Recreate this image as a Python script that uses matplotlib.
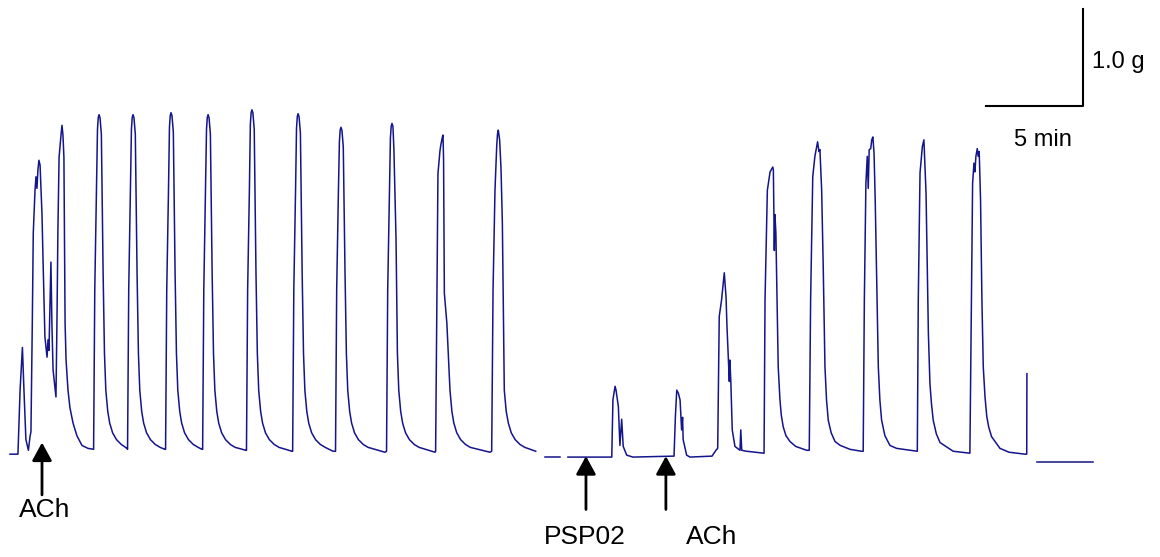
import numpy as np
import matplotlib
matplotlib.use("Agg")
import matplotlib.pyplot as plt

plt.rcParams['font.family'] = ['Liberation Sans', 'DejaVu Sans']

# tension trace: time in min, tension in g
# first run - ACh added, then the regular contractions (one line per contraction)
run1_t = [0.00, 0.41, 0.52, 0.64, 0.72, 0.82, 0.95, 1.03, 1.08, 1.15, 1.20, 1.29, 1.34, 1.39, 1.44, 1.49,
          1.55, 1.65, 1.70, 1.80, 1.91, 1.96, 2.01, 2.11, 2.16, 2.22, 2.37, 2.42, 2.47, 2.53, 2.63, 2.68,
          2.73, 2.78, 2.84, 2.89, 2.99, 3.09, 3.25, 3.45, 3.71, 4.02, 4.28,
          4.31, 4.37, 4.46, 4.51, 4.55, 4.59, 4.64, 4.71, 4.80, 4.87, 4.94, 5.04, 5.14, 5.29, 5.49, 5.74, 6.03,
          6.06, 6.12, 6.21, 6.26, 6.30, 6.34, 6.39, 6.46, 6.55, 6.62, 6.69, 6.79, 6.89, 7.04, 7.24, 7.49, 7.74, 7.99,
          8.02, 8.08, 8.17, 8.22, 8.26, 8.30, 8.35, 8.42, 8.51, 8.58, 8.65, 8.75, 8.85, 9.00, 9.20, 9.45, 9.70, 9.90,
          9.93, 9.99, 10.08, 10.13, 10.17, 10.21, 10.26, 10.33, 10.42, 10.49, 10.56, 10.66, 10.76, 10.91, 11.11,
          11.36, 11.61, 12.16,
          12.19, 12.25, 12.34, 12.39, 12.43, 12.47, 12.52, 12.59, 12.68, 12.75, 12.82, 12.92, 13.02, 13.17, 13.37,
          13.62, 13.87, 14.54,
          14.57, 14.63, 14.72, 14.77, 14.81, 14.85, 14.90, 14.97, 15.06, 15.13, 15.20, 15.30, 15.40, 15.55, 15.75,
          16.00, 16.25, 16.65,
          16.78, 16.84, 16.93, 16.98, 17.02, 17.06, 17.11, 17.18, 17.27, 17.34, 17.41, 17.51, 17.61, 17.76, 17.96,
          18.21, 18.46, 19.33,
          19.41, 19.47, 19.56, 19.61, 19.65, 19.69, 19.74, 19.79, 19.86, 19.90, 19.97, 20.04, 20.14, 20.24, 20.39,
          20.59, 20.84, 21.09, 21.91,
          21.94, 22.01, 22.06, 22.16, 22.21, 22.28, 22.32, 22.35, 22.39, 22.52, 22.68, 22.78, 22.88, 23.03, 23.23,
          23.48, 23.73, 24.74,
          24.83, 24.90, 25.00, 25.09, 25.13, 25.17, 25.24, 25.31, 25.38, 25.48, 25.58, 25.69, 25.84, 26.04, 26.29,
          26.54, 27.10]
run1_g = [0.06, 0.06, 0.72, 1.16, 0.72, 0.21, 0.10, 0.24, 0.29, 1.41, 2.34, 2.78, 2.92, 2.80, 2.99, 3.09,
          3.04, 2.53, 2.09, 1.27, 1.06, 1.24, 1.13, 2.04, 1.41, 0.93, 0.65, 1.41, 2.37, 3.12, 3.35, 3.45,
          3.35, 3.12, 1.41, 1.03, 0.72, 0.54, 0.38, 0.25, 0.15, 0.12, 0.11,
          0.11, 1.75, 2.78, 3.41, 3.53, 3.56, 3.53, 3.36, 1.93, 1.10, 0.72, 0.50, 0.38, 0.28, 0.21, 0.16, 0.12,
          0.11, 1.75, 2.78, 3.41, 3.53, 3.56, 3.53, 3.36, 1.93, 1.10, 0.72, 0.50, 0.38, 0.28, 0.21, 0.16, 0.13, 0.11,
          0.11, 1.75, 2.78, 3.43, 3.55, 3.58, 3.55, 3.38, 1.93, 1.10, 0.72, 0.50, 0.38, 0.28, 0.21, 0.16, 0.13, 0.11,
          0.11, 1.75, 2.78, 3.41, 3.53, 3.56, 3.53, 3.36, 1.93, 1.10, 0.72, 0.50, 0.38, 0.28, 0.21,
          0.16, 0.13, 0.10,
          0.10, 1.75, 2.78, 3.46, 3.58, 3.61, 3.58, 3.41, 1.93, 1.10, 0.72, 0.50, 0.38, 0.28, 0.21,
          0.16, 0.13, 0.09,
          0.09, 1.75, 2.78, 3.42, 3.54, 3.57, 3.54, 3.37, 1.93, 1.10, 0.72, 0.50, 0.38, 0.28, 0.21,
          0.16, 0.13, 0.09,
          0.09, 1.75, 2.78, 3.28, 3.40, 3.43, 3.40, 3.23, 1.93, 1.10, 0.72, 0.50, 0.38, 0.28, 0.21,
          0.16, 0.13, 0.08,
          0.09, 1.75, 2.78, 3.32, 3.44, 3.47, 3.44, 3.20, 2.60, 2.27, 1.10, 0.72, 0.50, 0.38, 0.28,
          0.21, 0.16, 0.13, 0.08,
          0.09, 1.75, 2.95, 3.18, 3.25, 3.32, 3.35, 3.10, 1.72, 1.41, 0.72, 0.50, 0.38, 0.28, 0.21,
          0.16, 0.13, 0.08,
          0.09, 1.75, 2.78, 3.24, 3.36, 3.40, 3.30, 3.01, 2.45, 0.72, 0.50, 0.38, 0.28, 0.21, 0.16,
          0.13, 0.09]

# short piece of baseline during the wash
wash_t = [27.58, 28.35]
wash_g = [0.03, 0.03]

# PSP02 added, then ACh again
run2_t = [28.76, 31.02, 31.08, 31.19, 31.24, 31.36, 31.44, 31.53, 31.61, 31.79, 32.11,
          34.23, 34.30, 34.37, 34.45, 34.54, 34.62, 34.67, 34.70, 34.88, 35.05,
          36.19, 36.39, 36.48, 36.56, 36.68, 36.82, 36.91, 36.96, 37.03, 37.08, 37.11, 37.16, 37.23,
          37.37, 37.63, 37.67, 37.72, 37.97, 38.83,
          38.87, 38.92, 39.04, 39.18, 39.32, 39.35, 39.40, 39.43, 39.48, 39.54, 39.60, 39.69, 39.76, 39.86,
          40.00, 40.21, 40.50, 41.07,
          41.20, 41.27, 41.38, 41.49, 41.58, 41.63, 41.70, 41.75, 41.84, 41.92, 42.01, 42.09, 42.18, 42.33,
          42.53, 42.80, 43.30, 43.90,
          43.98, 44.04, 44.12, 44.19, 44.24, 44.29, 44.37, 44.42, 44.48, 44.54, 44.60, 44.68, 44.76, 44.84,
          44.93, 45.10, 45.36, 45.70, 46.74,
          46.77, 46.82, 46.91, 47.03, 47.11, 47.22, 47.34, 47.42, 47.50, 47.59, 47.75, 47.94, 48.62, 49.48,
          49.54, 49.57, 49.62, 49.69, 49.74, 49.79, 49.86, 49.91, 49.96, 50.03, 50.10, 50.17, 50.26, 50.35,
          50.45, 50.60, 51.03, 51.50, 52.32, 52.41, 52.42]
run2_g = [0.03, 0.03, 0.62, 0.76, 0.72, 0.55, 0.15, 0.42, 0.14, 0.05, 0.03,
          0.04, 0.45, 0.72, 0.69, 0.62, 0.31, 0.44, 0.21, 0.05, 0.03,
          0.04, 0.10, 0.12, 1.48, 1.65, 1.93, 1.68, 1.37, 1.03, 0.81, 1.03, 0.79, 0.31,
          0.14, 0.10, 0.31, 0.10, 0.09, 0.07,
          0.07, 1.65, 2.78, 2.97, 3.02, 2.99, 2.16, 2.53, 2.34, 1.65, 0.96, 0.62, 0.46, 0.34,
          0.25, 0.19, 0.14, 0.10,
          0.10, 1.65, 2.92, 3.13, 3.23, 3.28, 3.18, 3.20, 2.78, 1.99, 0.96, 0.62, 0.41, 0.28,
          0.19, 0.15, 0.11, 0.09,
          0.09, 1.65, 2.85, 3.13, 2.80, 3.20, 3.21, 3.30, 3.33, 3.16, 2.68, 1.82, 0.96, 0.62,
          0.41, 0.25, 0.15, 0.12, 0.09,
          0.09, 1.65, 2.96, 3.23, 3.30, 2.75, 1.31, 0.79, 0.58, 0.41, 0.27, 0.18, 0.09, 0.07,
          1.31, 1.99, 2.85, 3.06, 2.97, 3.13, 3.21, 3.13, 3.18, 2.68, 1.65, 0.96, 0.65, 0.45,
          0.34, 0.24, 0.12, 0.08, 0.06, 0.06, 0.89]

# last baseline piece
tail_t = [52.94, 55.82]
tail_g = [-0.02, -0.02]

# drug additions
arrow_t = [1.65, 29.69, 33.81]
arrow_tip = [0.18, 0.04, 0.04]
arrow_tail = [-0.36, -0.51, -0.51]
labels = ["ACh", "PSP02", "ACh"]
label_t = [1.80, 29.64, 36.19]
label_g = [-0.52, -0.79, -0.79]

# scale bar
bar_min = 5
bar_g = 1.0
bar_corner = (55.31, 3.65)

fig = plt.figure(figsize=(11.6, 5.57), dpi=100)
ax = fig.add_axes([0, 0, 1, 1])
trace_color = '#14148c'
for t, g in [(run1_t, run1_g), (wash_t, wash_g), (run2_t, run2_g), (tail_t, tail_g)]:
    ax.plot(t, g, color=trace_color, lw=1.1, solid_joinstyle='round')

for t, tip, tail in zip(arrow_t, arrow_tip, arrow_tail):
    ax.annotate('', xy=(t, tip), xytext=(t, tail),
                arrowprops=dict(arrowstyle='-|>,head_length=0.55,head_width=0.3',
                                mutation_scale=20, lw=2, color='black',
                                shrinkA=0, shrinkB=0))
for txt, t, g in zip(labels, label_t, label_g):
    ax.text(t, g, txt, ha='center', va='center', fontsize=19)

cx, cy = bar_corner
ax.plot([cx - bar_min, cx, cx], [cy, cy, cy + bar_g], color='black', lw=1.5)
ax.text(cx + 0.46, cy + 0.45, "1.0 g", ha='left', va='center', fontsize=17)
ax.text(cx - 2.06, cy - 0.35, "5 min", ha='center', va='center', fontsize=17)

ax.set_xlim(-0.515, 59.28)
ax.set_ylim(-1.0, 4.742)
ax.axis('off')

fig.savefig('out.png', dpi=100)
